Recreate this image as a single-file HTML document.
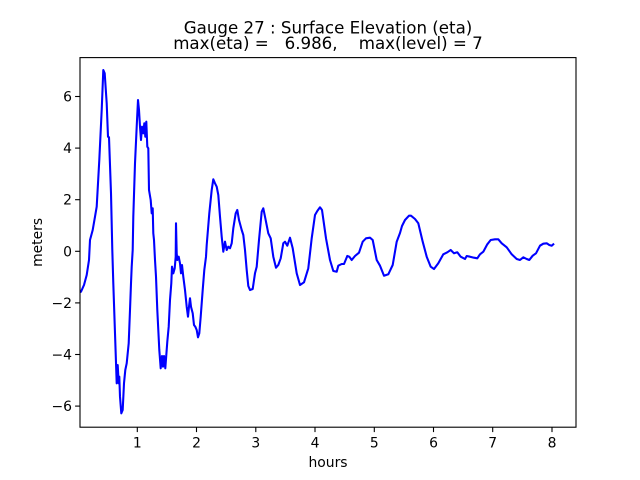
<!DOCTYPE html>
<html>
<head>
<meta charset="utf-8">
<style>
html,body{margin:0;padding:0;background:#fff;}
svg{display:block;}
text{font-family:"DejaVu Sans","Liberation Sans",sans-serif;fill:#000;}
</style>
</head>
<body>
<svg width="640" height="480" viewBox="0 0 640 480" xmlns="http://www.w3.org/2000/svg">
<rect x="0" y="0" width="640" height="480" fill="#fff"/>
<defs>
<clipPath id="ax"><rect x="80" y="57.6" width="496" height="369.6"/></clipPath>
</defs>
<polyline clip-path="url(#ax)" fill="none" stroke="#0000ff" stroke-width="2.08" stroke-linejoin="round" stroke-linecap="square"
points="78,293 81,291.7 84,285 86.7,275 89,260 90,240 92.7,230 95,216.7 96.7,206.7 99.3,160 101.7,110 103.3,70 104.7,73.3 106.7,103.3 108,136.7 109,137.3 111,193.3 112.3,250 113.3,283.3 115,333.3 116.7,383.3 117.7,365 118.7,383.3 119.3,376.7 120,396.7 121.3,413.3 122.7,410 124,383.3 125.3,370 126.7,363.3 128.7,343.3 130,310 131,283.3 131.7,266.7 132.7,250 133.3,216.7 135,163.3 136.7,126.7 138,100 139,110 140,126.7 141,140 142,126.7 143.3,133.3 144.3,123.3 145.3,136.7 146.3,121.7 147.3,146.7 148.3,148.3 149,190 150.7,200 151.7,213.3 152.7,208.3 153.3,233.3 154,240 155,260 156,276.7 157.3,310 159.3,350 160.7,368.3 162,356 163,366.7 164,356 165.3,368.3 167.3,341.7 168.7,326.7 170,300 171.3,283.3 172,266.7 173.3,273.3 174.7,268.3 175.7,256.7 176,223.3 176.7,253.3 177.3,260 178.7,256.7 180,263.3 181,273.3 182,265 183.3,276.7 185,290 186.7,306.7 188,316.7 189,306.7 190,298.3 191,306.7 192.7,313.3 194,325 195.3,326.7 196.7,330 198,337.3 199.3,333.3 200.7,316.7 202.7,290 204.3,270 206,256.7 206.7,245 209.3,213.3 211.7,190 213.3,179.3 215,183.3 216.7,186.7 218.3,195 220,216.7 221.7,236.7 223.3,251.7 225,241.7 226.7,250 228.3,246.7 230,248.3 231.7,243.3 233.3,228.3 235.7,213.3 237.3,210 239,220 241.7,230 243.3,235 245,250 246.7,270 248.3,286 250,290 252.7,289 255,273.3 256.7,266.7 259,240 261.7,211.7 263.3,208.3 265,216.7 268.3,233.3 270.7,238.3 273.3,256.7 276,267.7 278.3,265 280.7,258.3 283.3,243.3 285,241.7 287.3,245.7 290,237.7 292.7,248.3 296.7,273.3 300,285 304,282.3 308.3,268.3 311.7,238.3 315,215 317.3,211 320,207.3 322,210 326,238.3 330,260 333.3,271 336.7,271.7 338.3,265.7 341.7,264 344,264 347.3,256 349.3,256.7 351.7,260 355,256 359,252.7 362.7,241.7 366,238.3 370,237.7 372.7,240 376.7,260 380,265.7 384,275.7 388.3,274.3 392.7,265 396.7,241.7 400,233 402,226 405,220 409,215.7 411,215.7 415,219 418.3,223.3 422.7,241.7 426.7,256.7 430.7,266.7 434,269 438.3,263.3 443.3,254.3 447.3,252.3 450.7,250 454,253.3 457.3,252.3 460.7,256.7 465,259 466.7,256 470,256.7 474,257.7 477.3,258.3 480,254.3 483.3,251.7 487.3,244.3 490.7,240 495,239.3 498.3,239.3 501.7,243.3 506.7,247.3 511.7,254.3 516.7,259 520,260 523.3,257.3 526.7,259 529.3,260 532.7,255.7 536,253.3 540,245.7 543.3,243.7 546.7,243.3 549.3,245 551.7,245.7 553.3,244.3"/>
<!-- axes frame -->
<rect x="80" y="57.6" width="496" height="369.6" fill="none" stroke="#000" stroke-width="1.1"/>
<!-- y ticks -->
<g stroke="#000" stroke-width="1.1">
<line x1="75.1" y1="96.5" x2="80" y2="96.5"/>
<line x1="75.1" y1="148.1" x2="80" y2="148.1"/>
<line x1="75.1" y1="199.7" x2="80" y2="199.7"/>
<line x1="75.1" y1="251.3" x2="80" y2="251.3"/>
<line x1="75.1" y1="302.9" x2="80" y2="302.9"/>
<line x1="75.1" y1="354.5" x2="80" y2="354.5"/>
<line x1="75.1" y1="406.1" x2="80" y2="406.1"/>
</g>
<g font-size="13.9" text-anchor="end">
<text x="72" y="101.5">6</text>
<text x="72" y="153.1">4</text>
<text x="72" y="204.7">2</text>
<text x="72" y="256.3">0</text>
<text x="72" y="307.9">−2</text>
<text x="72" y="359.5">−4</text>
<text x="72" y="411.1">−6</text>
</g>
<!-- x ticks -->
<g stroke="#000" stroke-width="1.1">
<line x1="137.3" y1="427.2" x2="137.3" y2="432.1"/>
<line x1="196.5" y1="427.2" x2="196.5" y2="432.1"/>
<line x1="255.8" y1="427.2" x2="255.8" y2="432.1"/>
<line x1="315.0" y1="427.2" x2="315.0" y2="432.1"/>
<line x1="374.3" y1="427.2" x2="374.3" y2="432.1"/>
<line x1="433.5" y1="427.2" x2="433.5" y2="432.1"/>
<line x1="492.7" y1="427.2" x2="492.7" y2="432.1"/>
<line x1="552.0" y1="427.2" x2="552.0" y2="432.1"/>
</g>
<g font-size="13.9" text-anchor="middle">
<text x="137.3" y="447.6">1</text>
<text x="196.5" y="447.6">2</text>
<text x="255.8" y="447.6">3</text>
<text x="315.0" y="447.6">4</text>
<text x="374.3" y="447.6">5</text>
<text x="433.5" y="447.6">6</text>
<text x="492.7" y="447.6">7</text>
<text x="552.0" y="447.6">8</text>
</g>
<text x="328" y="467" font-size="13.9" text-anchor="middle">hours</text>
<text x="0" y="0" font-size="13.9" text-anchor="middle" transform="translate(42,242.4) rotate(-90)">meters</text>
<g font-size="16.67" text-anchor="middle">
<text x="328" y="33.5" xml:space="preserve">Gauge 27 : Surface Elevation (eta)</text>
<text x="328" y="49" xml:space="preserve">max(eta) =   6.986,    max(level) = 7</text>
</g>
</svg>
</body>
</html>
